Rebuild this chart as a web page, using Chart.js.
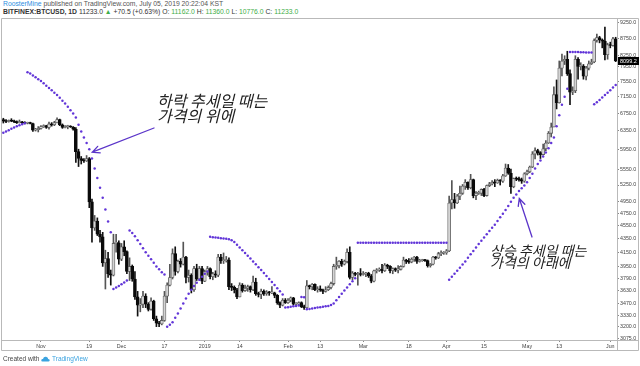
<!DOCTYPE html>
<html><head><meta charset="utf-8">
<script src="https://cdn.jsdelivr.net/npm/chart.js@4/dist/chart.umd.min.js"></script>
<style>
html,body{margin:0;padding:0;background:#fff;width:640px;height:366px;overflow:hidden;font-family:"Liberation Sans",Arial,sans-serif}
#wrap{position:absolute;left:0;top:0;width:640px;height:366px}
.hdr{position:absolute;left:3px;font-size:6.8px;color:#555;white-space:nowrap;line-height:8px}
.g{color:#3fae49}
.ann{position:absolute;font-style:italic;color:#222;font-family:"Noto Sans CJK KR",sans-serif;white-space:nowrap}
.ftr{position:absolute;left:3px;top:355px;font-size:6.5px;color:#444;white-space:nowrap;line-height:8px}
</style></head><body>
<div class="hdr" style="top:0px"><span style="color:#2e8de0">RoosterMine</span> published on TradingView.com, July 05, 2019 20:22:04 KST</div>
<div class="hdr" style="top:8px;color:#333"><b>BITFINEX:BTCUSD, 1D</b> 11233.0 <span class="g">▲</span> +70.5 (+0.63%) O: <span class="g">11162.0</span> H: <span class="g">11360.0</span> L: <span class="g">10776.0</span> C: <span class="g">11233.0</span></div>
<div id="wrap"><canvas id="c" width="640" height="366"></canvas></div>
<div class="ann" style="left:157px;top:93px;font-size:16px;line-height:15px">하락 추세일 때는<br>가격의 위에</div>
<div class="ann" style="left:490px;top:244px;font-size:14px;line-height:12px">상승 추세일 때는<br>가격의 아래에</div>
<div class="ftr">Created with <svg width="9" height="6" viewBox="0 0 9 6" style="vertical-align:-1px"><path d="M1.5 5.5 Q0 5.5 0.3 4 Q0.6 2.8 2 3 Q2.5 0.5 5 0.8 Q7 1 7.2 3 Q9 3.2 8.7 4.6 Q8.4 5.5 7.5 5.5 Z" fill="#3aa3e0"/></svg> <span style="color:#3aa3e0">TradingView</span></div>
<script>
// ---- data ----
const startDate = '2018-10-18'; // first daily candle; one category per day up to 2019-06-03
const open = [6600,6560,6555,6570,6565,6550,6530,6545,6520,6515,
6525,6510,6360,6370,6400,6440,6460,6420,6500,6480,
6530,6600,6480,6420,6440,6440,6430,6380,5900,5760,
5720,5710,5760,4950,4520,4630,4420,4380,4000,4060,
3850,3830,4280,4290,4050,4230,4160,3880,3950,3780,
3550,3450,3460,3560,3460,3400,3500,3290,3240,3230,
3270,3560,3700,3800,4130,3880,4020,3980,4080,3800,
3830,3640,3920,3780,3920,3750,3880,3920,3810,3850,
3830,4080,4030,4030,4040,3680,3670,3640,3550,3700,
3630,3660,3680,3640,3740,3590,3580,3620,3590,3610,
3600,3600,3570,3480,3450,3510,3480,3510,3540,3460,
3460,3480,3430,3420,3690,3680,3710,3640,3650,3640,
3620,3640,3670,3720,3950,3960,4020,3980,4020,4150,
3800,3860,3840,3850,3840,3850,3860,3820,3750,3890,
3900,3910,3890,3970,3950,3890,3920,3900,3910,3950,
4040,4020,4010,4050,4080,4020,4030,4040,4030,3960,
3980,4080,4070,4130,4140,4140,4170,4930,4990,4930,
5050,5100,5230,5300,5200,5350,5060,5100,5100,5170,
5060,5240,5270,5300,5290,5340,5320,5420,5570,5470,
5220,5370,5360,5350,5320,5460,5500,5590,5850,5920,
5880,5840,5960,6080,6290,6430,7200,7000,7900,8100,
8150,7750,7260,7300,8150,7950,7960,7680,7900,8020,
8070,8700,8790,8720,8680,8280,8570,8550,8750];
const high = [6630,6600,6590,6620,6590,6570,6590,6560,6550,6540,
6540,6520,6400,6440,6460,6480,6470,6540,6530,6560,
6640,6610,6500,6460,6470,6460,6440,6420,5950,5800,
5760,5820,5780,5000,4720,4680,4480,4450,4180,4150,
3900,4420,4420,4320,4280,4320,4170,4070,3970,3880,
3620,3530,3620,3590,3480,3540,3510,3320,3260,3320,
3620,3730,3980,4200,4230,4040,4060,4300,4090,3900,
3850,3950,3980,3950,3950,3900,3950,3930,3870,3890,
4120,4120,4140,4090,4070,3720,3690,3660,3730,3720,
3700,3700,3690,3820,3790,3610,3650,3640,3630,3620,
3680,3610,3580,3490,3530,3530,3530,3550,3545,3480,
3490,3490,3450,3760,3700,3720,3715,3680,3690,3650,
3680,3690,3740,3980,4080,4030,4050,4040,4200,4230,
3880,3870,3870,3920,3880,3870,3870,3840,3900,3920,
3930,3980,3990,3980,3960,3930,3930,3960,3960,4080,
4050,4060,4070,4090,4090,4050,4050,4050,4040,3990,
4090,4090,4150,4170,4160,4190,5050,5330,5100,5080,
5230,5260,5350,5310,5450,5360,5130,5140,5180,5190,
5250,5300,5330,5350,5360,5350,5450,5650,5640,5550,
5380,5400,5400,5380,5480,5530,5610,5900,5980,5950,
5900,6060,6130,6330,6520,7400,7580,8100,8300,8250,
8380,7850,7400,8250,8200,8050,8000,7950,8100,8150,
8750,8900,8830,8750,9120,8620,8650,8800,8800];
const low = [6520,6530,6540,6550,6530,6510,6520,6500,6500,6500,
6500,6330,6340,6320,6380,6420,6400,6380,6450,6460,
6520,6460,6400,6410,6390,6420,6360,5680,5600,5650,
5680,5700,4850,4300,4480,4400,4300,3950,3650,3800,
3700,3820,4150,3980,4030,4100,3850,3760,3750,3520,
3320,3370,3420,3420,3380,3390,3270,3200,3200,3220,
3260,3480,3690,3780,3830,3860,3940,3970,3730,3740,
3600,3620,3760,3760,3720,3745,3830,3780,3770,3800,
3810,3990,3990,4010,3640,3630,3600,3530,3550,3610,
3620,3620,3610,3630,3570,3550,3530,3570,3570,3570,
3590,3540,3460,3420,3440,3470,3470,3490,3450,3440,
3450,3420,3400,3410,3650,3640,3630,3610,3620,3590,
3610,3630,3650,3700,3910,3930,3950,3970,4000,3780,
3770,3820,3700,3820,3830,3810,3800,3730,3740,3860,
3880,3860,3880,3920,3860,3850,3880,3860,3900,3940,
3990,3990,4000,4020,3990,4010,4020,4020,3940,3940,
3970,4050,4060,4100,4120,4120,4160,4830,4840,4920,
4990,5080,5170,5170,5180,5020,4990,5080,5060,5040,
5050,5220,5250,5220,5280,5250,5300,5410,5450,5100,
5200,5330,5320,5280,5300,5440,5480,5580,5750,5830,
5760,5830,5920,6070,6210,6430,6850,6990,7690,8000,
7700,6950,7200,7250,7600,7850,7600,7580,7850,8000,
8050,8650,8630,8480,8130,8150,8480,8530,8080];
const close = [6560,6555,6570,6565,6550,6530,6545,6520,6515,6525,
6510,6360,6370,6400,6440,6460,6420,6500,6480,6530,
6600,6480,6420,6440,6440,6430,6380,5900,5760,5720,
5710,5760,4950,4520,4630,4420,4380,4000,4060,3850,
3830,4280,4290,4050,4230,4160,3880,3950,3780,3550,
3450,3460,3560,3460,3400,3500,3290,3240,3230,3270,
3560,3700,3800,4130,3880,4020,3980,4080,3800,3830,
3640,3920,3780,3920,3750,3880,3920,3810,3850,3830,
4080,4030,4030,4040,3680,3670,3640,3550,3700,3630,
3660,3680,3640,3740,3590,3580,3620,3590,3610,3600,
3600,3570,3480,3450,3510,3480,3510,3540,3460,3460,
3480,3430,3420,3690,3680,3710,3640,3650,3640,3620,
3640,3670,3720,3950,3960,4020,3980,4020,4150,3800,
3860,3840,3850,3840,3850,3860,3820,3750,3890,3900,
3910,3890,3970,3950,3890,3920,3900,3910,3950,4040,
4020,4010,4050,4080,4020,4030,4040,4030,3960,3980,
4080,4070,4130,4140,4140,4170,4930,4990,4930,5050,
5100,5230,5300,5200,5350,5060,5100,5100,5170,5060,
5240,5270,5300,5290,5340,5320,5420,5570,5470,5220,
5370,5360,5350,5320,5460,5500,5590,5850,5920,5880,
5840,5960,6080,6290,6430,7200,7000,7900,8100,8150,
7750,7260,7300,8150,7950,7960,7680,7900,8020,8070,
8700,8790,8720,8680,8280,8570,8550,8750,8099.2];
// Parabolic SAR, one dot per day
const sar = [6300,6330,6360,6390,6420,6445,6470,6495,6515,
7790,7750,7700,7650,7600,7550,7490,7430,7370,7310,7250,7190,7120,7050,6980,6900,6820,6740,6650,6480,6330,6200,6080,5950,5760,5560,5380,5200,5020,4820,4620,4450,
3650,3670,3690,3710,3735,3760,
4480,4440,4390,4330,4270,4210,4150,4100,4050,4000,3950,3910,3870,3840,
3200,3220,3250,3300,3350,3410,3470,3530,3590,3640,3690,3730,3770,3810,3850,3880,
4380,4375,4370,4365,4360,4355,4350,4345,4330,4300,4260,4220,4180,4140,4100,4060,4020,3980,3940,3900,3860,3820,3780,3740,3700,3660,3620,3580,
3420,3425,3430,3435,3440,3445,
3550,3545,
3400,3405,3410,3415,3420,3425,3430,3435,3440,3450,3470,3510,3550,3590,3630,3670,3710,3750,3790,
4290,4290,4290,4290,4290,4290,4290,4290,4290,4290,4290,4290,4290,4290,4290,4290,4290,4290,4290,4290,4290,4290,4290,4290,4290,4290,4290,4290,4290,4290,4290,4290,4290,4290,
3770,3810,3850,3890,3930,3975,4020,4070,4120,4170,4220,4270,4320,4370,4420,4470,4520,4570,4630,4690,4750,4810,4880,4950,5020,5080,5140,5190,5240,5300,5380,5460,5560,5650,5720,5800,5880,5970,6080,6200,6450,6700,6950,7150,7350,
8360,8360,8355,8355,8350,8350,8345,8345,8340,
6960,7010,7070,7130,7190,7250,7310,7380,7450];
const yTicks = [3075,3200,3330,3470,3630,3790,3950,4150,4350,4550,4750,4950,5250,5550,5950,6350,6750,7150,7550,7950,8250,8750,9250];
const xTickLabels = {'2018-11-01':'Nov','2018-11-19':'19','2018-12-01':'Dec','2018-12-17':'17','2019-01-01':'2019','2019-01-14':'14','2019-02-01':'Feb','2019-02-13':'13','2019-03-01':'Mar','2019-03-18':'18','2019-04-01':'Apr','2019-04-15':'15','2019-05-01':'May','2019-05-13':'13','2019-06-01':'Jun'};

// category labels: consecutive days
const dates = [];
{ const d0 = new Date(startDate + 'T00:00:00Z');
  for (let i = 0; i < close.length; i++) { const d = new Date(d0.getTime() + i*86400000); dates.push(d.toISOString().slice(0,10)); } }

const UP_FILL = '#d4d4d4', UP_EDGE = '#606060', DOWN_FILL = '#0a0a0a', UP_WICK = '#555', DOWN_WICK = '#111';
const isUp = close.map((c,i)=> c >= open[i]);

const framePlugin = {
  id:'frame',
  afterDraw(chart){
    const {ctx, chartArea:a} = chart;
    ctx.save();
    ctx.strokeStyle = '#b9b9b9'; ctx.lineWidth = 1;
    ctx.beginPath();
    ctx.rect(1.5, a.top - 0.5, 637, 350 - a.top + 1);
    ctx.moveTo(a.right + 0.5, a.top - 0.5); ctx.lineTo(a.right + 0.5, 350.5);
    ctx.moveTo(1.5, a.bottom + 0.5); ctx.lineTo(638.5, a.bottom + 0.5);
    ctx.stroke();
    // last price label
    const y = chart.scales.y.getPixelForValue(close[close.length-1]);
    ctx.fillStyle = '#000';
    ctx.fillRect(a.right + 1, Math.round(y) - 4, 21, 8);
    ctx.fillStyle = '#fff';
    ctx.font = '5.5px "Liberation Sans", Arial, sans-serif';
    ctx.textBaseline = 'middle';
    ctx.fillText(close[close.length-1].toFixed(1), a.right + 3, Math.round(y));
    ctx.restore();
  }
};

// arrows: tail in page pixels near the text, tip anchored to a SAR dot
const arrows = [
  {tail:[154,128], tipIndex:32, dx:3, dy:3},
  {tail:[532,237], tipIndex:191, dx:3, dy:4}
];
const arrowPlugin = {
  id:'arrows',
  afterDraw(chart){
    const {ctx, scales:{x,y}} = chart;
    ctx.save();
    ctx.strokeStyle = '#5b35c9'; ctx.lineWidth = 1.3; ctx.lineCap = 'round';
    arrows.forEach(a=>{
      const tx = x.getPixelForValue(a.tipIndex) + a.dx;
      const ty = y.getPixelForValue(sar[a.tipIndex]) + a.dy;
      const [sx, sy] = a.tail;
      const ang = Math.atan2(ty - sy, tx - sx);
      ctx.beginPath(); ctx.moveTo(sx, sy); ctx.lineTo(tx, ty);
      const L = 8, w = 0.45;
      ctx.moveTo(tx - L*Math.cos(ang - w), ty - L*Math.sin(ang - w)); ctx.lineTo(tx, ty);
      ctx.lineTo(tx - L*Math.cos(ang + w), ty - L*Math.sin(ang + w));
      ctx.stroke();
    });
    ctx.restore();
  }
};

new Chart(document.getElementById('c'), {
  data: {
    labels: dates,
    datasets: [
      { type:'line', data: sar, showLine:false, pointRadius:1.25, pointHoverRadius:0, pointBorderWidth:0, pointBackgroundColor:'#6236d8', order:0 },
      { type:'bar', data: open.map((o,i)=>[o, close[i]]), backgroundColor: isUp.map(u=>u?UP_FILL:DOWN_FILL), borderColor: isUp.map(u=>u?UP_EDGE:DOWN_FILL), borderWidth:0.8, borderSkipped:false, barThickness:3, minBarLength:1, grouped:false, order:1 },
      { type:'bar', data: low.map((l,i)=>[l, high[i]]), backgroundColor: isUp.map(u=>u?UP_WICK:DOWN_WICK), barThickness:1, grouped:false, order:2 }
    ]
  },
  options: {
    responsive:false, animation:false, events:[],
    layout:{ padding:{ left:2, top:19, right:2, bottom:16 } },
    plugins:{ legend:{display:false}, tooltip:{enabled:false} },
    scales:{
      x:{
        type:'category', offset:true,
        grid:{ drawOnChartArea:false, offset:false, tickLength:2, tickColor:(c)=> xTickLabels[dates[c.index]] ? '#888' : 'rgba(0,0,0,0)' },
        border:{ display:false },
        ticks:{ autoSkip:false, maxRotation:0, padding:1, font:{size:5.3, family:'"Liberation Sans", Arial, sans-serif'}, color:'#444',
          callback:(v,i)=> xTickLabels[dates[i]] || '' },
        afterFit:(s)=>{ s.height = 10; }
      },
      y:{
        type:'logarithmic', position:'right', min:3054, max:9380,
        grid:{ drawOnChartArea:false, tickLength:2, tickColor:'#888' },
        border:{ display:false },
        afterBuildTicks:(s)=>{ s.ticks = yTicks.map(v=>({value:v})); },
        ticks:{ padding:1, font:{size:5.3, family:'"Liberation Sans", Arial, sans-serif'}, color:'#444', callback:(v)=> Number(v).toFixed(1) },
        afterFit:(s)=>{ s.width = 21; }
      }
    }
  },
  plugins:[framePlugin, arrowPlugin]
});
</script>
</body></html>
